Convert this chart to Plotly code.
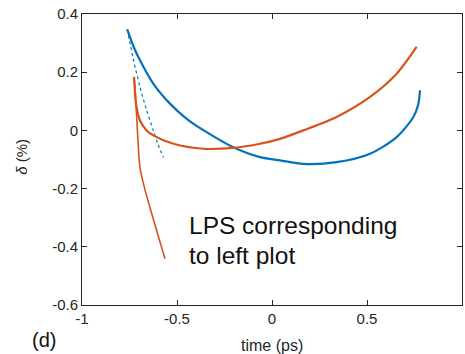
import plotly.graph_objects as go

# Longitudinal phase space: relative energy deviation vs. time
blue_t = [-0.762, -0.73, -0.695, -0.625, -0.537, -0.449, -0.344, -0.204, -0.063,
          0.042, 0.165, 0.34, 0.516, 0.656, 0.744, 0.77, 0.779]
blue_d = [0.347, 0.29, 0.241, 0.161, 0.092, 0.040, -0.006, -0.058, -0.092,
          -0.103, -0.115, -0.109, -0.080, -0.023, 0.046, 0.09, 0.138]

blue_tail_t = [-0.762, -0.73, -0.695, -0.66, -0.625, -0.6, -0.572]
blue_tail_d = [0.347, 0.245, 0.149, 0.07, 0.0, -0.048, -0.092]

orange_t = [-0.726, -0.722, -0.716, -0.695, -0.66, -0.625, -0.519, -0.362, -0.204,
            -0.063, 0.042, 0.165, 0.34, 0.516, 0.656, 0.761]
orange_d = [0.184, 0.14, 0.092, 0.034, 0.0, -0.017, -0.046, -0.063, -0.060,
            -0.046, -0.029, 0.0, 0.046, 0.115, 0.195, 0.287]

orange_tail_t = [-0.726, -0.721, -0.71, -0.695, -0.67, -0.642, -0.6, -0.563]
orange_tail_d = [0.18, 0.149, 0.02, -0.127, -0.2, -0.266, -0.36, -0.441]

x_ticks = [-1, -0.5, 0, 0.5, 1]
x_tick_text = ["-1", "-0.5", "0", "0.5", "1"]
y_ticks = [-0.6, -0.4, -0.2, 0, 0.2, 0.4]
y_tick_text = ["-0.6", "-0.4", "-0.2", "0", "0.2", "0.4"]

BLUE = "#0072BD"
ORANGE = "#D95319"
AXIS = "#262626"

fig = go.Figure()
fig.add_trace(go.Scatter(x=blue_tail_t, y=blue_tail_d, mode="lines",
                         line=dict(color=BLUE, width=1.2, dash="dot", shape="spline", smoothing=0.8)))
fig.add_trace(go.Scatter(x=orange_tail_t, y=orange_tail_d, mode="lines",
                         line=dict(color=ORANGE, width=1.6, shape="spline", smoothing=0.8)))
fig.add_trace(go.Scatter(x=blue_t, y=blue_d, mode="lines",
                         line=dict(color=BLUE, width=2.2, shape="spline", smoothing=0.8)))
fig.add_trace(go.Scatter(x=orange_t, y=orange_d, mode="lines",
                         line=dict(color=ORANGE, width=2.2, shape="spline", smoothing=0.8)))

axis_common = dict(showgrid=False, zeroline=False, showline=True, linecolor=AXIS,
                   linewidth=1, mirror="ticks", ticks="inside", ticklen=5,
                   tickcolor=AXIS, tickwidth=1,
                   tickfont=dict(family="Liberation Sans, Arial", size=15, color=AXIS))

fig.update_xaxes(range=[-1, 1], tickvals=x_ticks, ticktext=x_tick_text, **axis_common)
fig.update_yaxes(range=[-0.6, 0.4], tickvals=y_ticks, ticktext=y_tick_text, **axis_common)

fig.add_annotation(text="time (ps)", xref="paper", yref="paper", x=0.5, y=-0.138,
                   xanchor="center", yanchor="middle", showarrow=False,
                   font=dict(family="Liberation Sans, Arial", size=16, color=AXIS))
fig.add_annotation(text="<i>δ</i> (%)", xref="paper", yref="paper", x=-0.16, y=0.51,
                   xanchor="center", yanchor="middle", showarrow=False, textangle=-90,
                   font=dict(family="Liberation Sans, Arial", size=15, color=AXIS))
fig.add_annotation(text="(d)", xref="paper", yref="paper", x=-0.1, y=-0.12,
                   xanchor="center", yanchor="middle", showarrow=False,
                   font=dict(family="Liberation Sans, Arial", size=20, color="#111111"))
fig.add_annotation(text="LPS corresponding", xref="x", yref="y", x=-0.45, y=-0.328,
                   xanchor="left", yanchor="middle", showarrow=False,
                   font=dict(family="Liberation Sans, Arial", size=24.5, color="#111111"))
fig.add_annotation(text="to left plot", xref="x", yref="y", x=-0.45, y=-0.43,
                   xanchor="left", yanchor="middle", showarrow=False,
                   font=dict(family="Liberation Sans, Arial", size=24.5, color="#111111"))

fig.update_layout(width=465, height=354, margin=dict(l=82, r=3, t=14, b=49),
                  plot_bgcolor="white", paper_bgcolor="white", showlegend=False)

fig.write_html("out.html")
